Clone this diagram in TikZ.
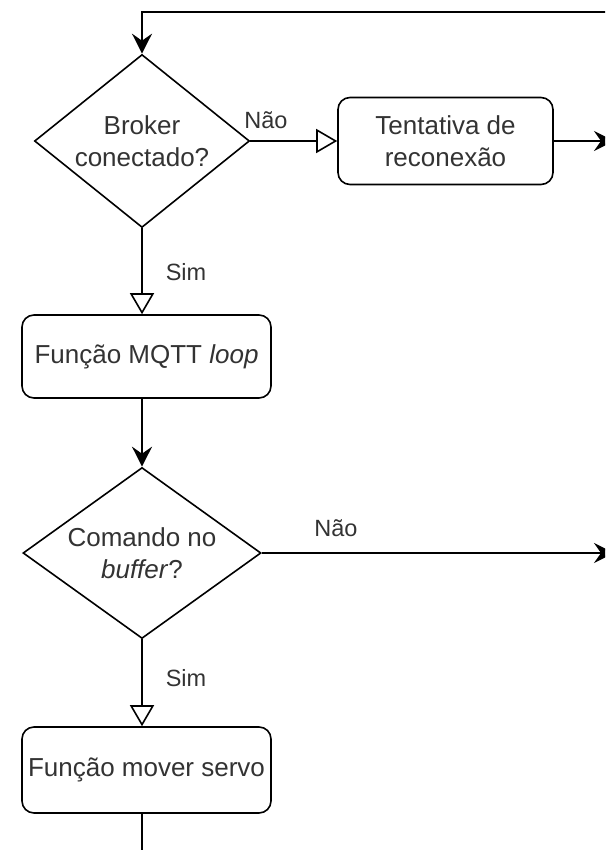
\documentclass[tikz,border=0pt]{standalone}
\usepackage{fontspec}
\setmainfont{Liberation Sans}
\usetikzlibrary{shapes.geometric,arrows.meta}
\definecolor{ink}{HTML}{333333}
\tikzset{
  flowline/.style={draw=black, line width=1.6pt},
  solidtip/.style={-{Stealth[length=20pt,width=20pt,inset=7pt]}},
  opentip/.style={-{Triangle[open,length=21pt,width=24pt,line width=1.6pt]}},
  procbox/.style={draw=black, line width=1.6pt, rounded corners=12pt, fill=white,
    text=ink, align=center, font=\fontsize{26}{32}\selectfont, inner sep=0pt},
  decision/.style={draw=black, line width=1.6pt, diamond, fill=white, inner sep=0pt},
  dtext/.style={text=ink, align=center, font=\fontsize{26}{32}\selectfont},
  branchlabel/.style={text=ink, font=\fontsize{23.5}{28}\selectfont},
}
\begin{document}
\begin{tikzpicture}[x=1pt,y=-1pt]
  \useasboundingbox (0,0) rectangle (605,850);
  \clip (0,0) rectangle (605,850);

  % decisions
  \node[decision, minimum width=215pt, minimum height=173pt] (conn) at (142,141) {};
  \node[dtext] (conntext) at (142,141) {Broker\\conectado?};
  \node[decision, minimum width=238pt, minimum height=171pt] (cmd) at (142,553) {};
  \node[dtext] (cmdtext) at (142,553) {Comando no\\\textit{buffer}?};

  % process boxes
  \node[procbox, minimum width=215pt, minimum height=87pt] (retry) at (445.5,141) {Tentativa de\\reconexão};
  \node[procbox, minimum width=249pt, minimum height=83pt] (loop) at (146.5,356.5) {Função MQTT \textit{loop}};
  \node[procbox, minimum width=249pt, minimum height=86pt] (servo) at (146.5,770) {Função mover servo};

  % free ends at the picture's border
  \coordinate (loopin) at (612,12);
  \coordinate (corner) at (142,12);
  \coordinate (retryout) at (614,141);
  \coordinate (cmdout) at (614,553);
  \coordinate (servoout) at (142,860);

  % connectors
  \draw[flowline, solidtip] (loopin) -- (corner) -- (conn.north);
  \draw[flowline, opentip] (conn.east) -- (retry.west);
  \draw[flowline, solidtip] (retry.east) -- (retryout);
  \draw[flowline, opentip] (conn.south) -- (loop.north -| conn.south);
  \draw[flowline, solidtip] (loop.south -| cmd.north) -- (cmd.north);
  \draw[flowline, solidtip] (cmd.east) -- (cmdout);
  \draw[flowline, opentip] (cmd.south) -- (servo.north -| cmd.south);
  \draw[flowline] (servo.south -| cmd.south) -- (servoout);

  % branch labels
  \node[branchlabel] (l1) at (266,120) {Não};
  \node[branchlabel] (l2) at (186,272) {Sim};
  \node[branchlabel] (l3) at (336,528) {Não};
  \node[branchlabel] (l4) at (186,678) {Sim};
\end{tikzpicture}
\end{document}
